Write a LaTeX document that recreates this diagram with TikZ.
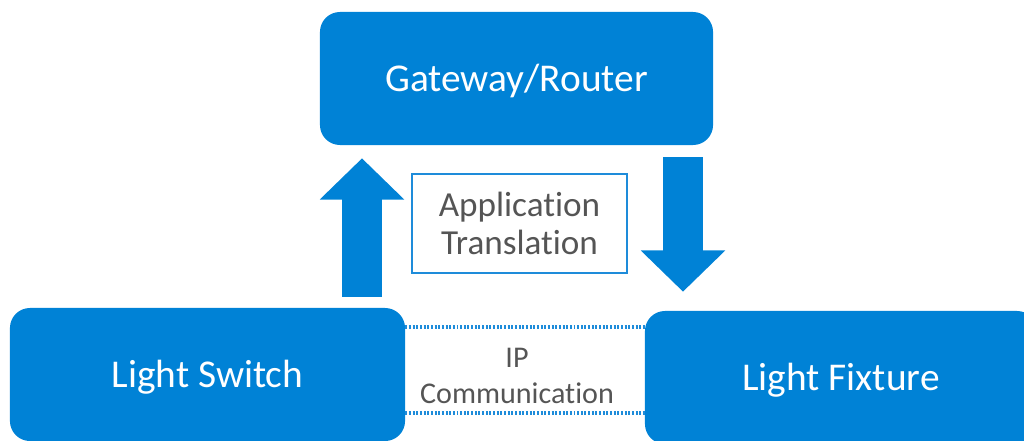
\documentclass[tikz,border=0pt]{standalone}
\usepackage{fontspec}
\setmainfont{Carlito}[Ligatures=NoCommon]
\usetikzlibrary{arrows.meta, positioning}
\definecolor{boxblue}{RGB}{0,130,214}
\definecolor{lineblue}{RGB}{30,140,218}
\definecolor{textgray}{RGB}{85,85,85}
\tikzset{
    device/.style={fill=boxblue, rounded corners=0.5cm, inner sep=0pt,
        minimum height=3.325cm, text=white, text height=19pt, text depth=0pt,
        font=\fontsize{28}{30}\selectfont},
    note/.style={draw=lineblue, line width=1pt, inner sep=0pt, align=center,
        minimum width=5.375cm, minimum height=2.475cm, text=textgray,
        font=\fontsize{25}{27}\selectfont},
    fatarrow/.style={boxblue, line width=1.02cm,
        -{Triangle[width=2.05cm, length=1.03cm]}},
    ipdots/.style={lineblue, line width=2.4pt, dash pattern=on 1.4pt off 1.2pt}
}
\begin{document}
\begin{tikzpicture}[x=0.025cm, y=-0.025cm]
    \useasboundingbox (0, 0) rectangle (1024, 440);
    \clip (0, 0) rectangle (1024, 440);
    \node[device, minimum width=9.825cm] (gw) at (516.5, 78.5) {Gateway/Router};
    \node[device, minimum width=9.875cm] (ls) at (207.5, 374.5) {Light Switch};
    \node[device, minimum width=9.8cm] (lf) at (841, 377.5) {Light Fixture};
    \node[note] (xlate) at (519.5, 223.5) {Application\\Translation};
    \node[align=center, text=textgray, font=\fontsize{21.4}{26}\selectfont]
        (ipc) at (517, 376) {IP\\Communication};
    \coordinate (upx) at (362, 0);
    \coordinate (downx) at (683, 0);
    \coordinate (iptop) at (0, 327);
    \coordinate (ipbot) at (0, 413);
    \draw[fatarrow, shorten <=0.275cm, shorten >=0.325cm]
        (upx |- ls.north) -- (upx |- gw.south);
    \draw[fatarrow, shorten <=0.3cm, shorten >=0.475cm]
        (downx |- gw.south) -- (downx |- lf.north);
    \draw[ipdots] (ls.east |- iptop) -- (lf.west |- iptop);
    \draw[ipdots] (ls.east |- ipbot) -- (lf.west |- ipbot);
\end{tikzpicture}
\end{document}
